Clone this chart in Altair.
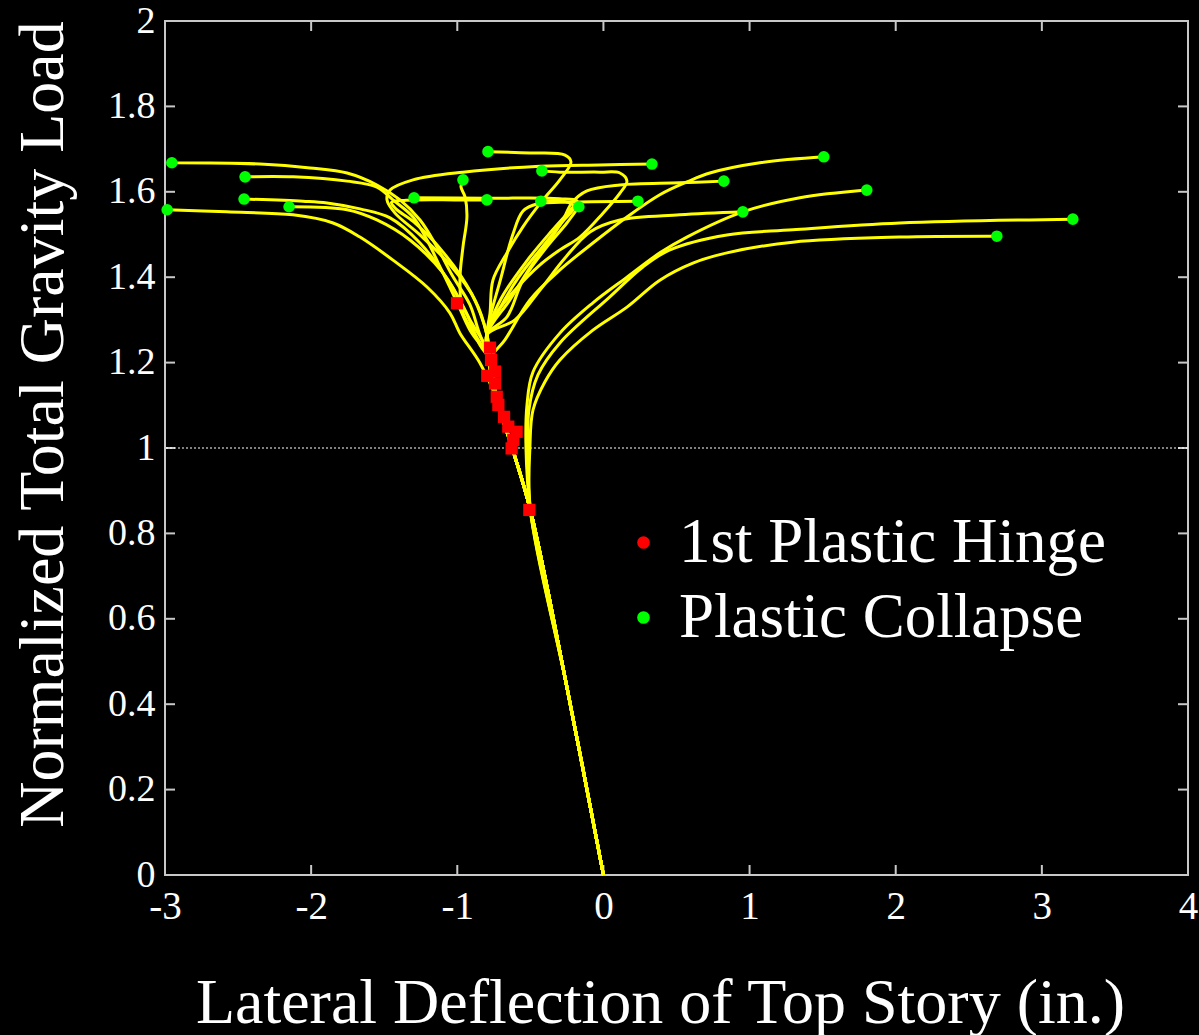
import altair as alt
import pandas as pd

# ---------------- data ----------------
# shared part of every load path (elastic trunk)
TRUNK_X = [0.0, -0.25, -0.50]
TRUNK_Y = [0.0, 0.44, 0.855]
UPPER_X = [-0.626, -0.728, -0.776]
UPPER_Y = [1.002, 1.112, 1.206]
NECK_X = [-0.797]
NECK_Y = [1.265]

# plastic collapse points (end of each path)
COLLAPSE_X = [-2.953, -2.985, -2.452, -2.459, -2.151, -1.296, -0.961, -0.790, -0.797, -0.428,
              -0.421, -0.168, 0.332, 0.236, 0.824, 0.954, 1.508, 1.802, 2.692, 3.212]
COLLAPSE_Y = [1.668, 1.558, 1.635, 1.583, 1.565, 1.586, 1.628, 1.694, 1.581, 1.578,
              1.649, 1.565, 1.665, 1.578, 1.625, 1.553, 1.682, 1.604, 1.496, 1.536]

# which shared part each path follows before branching
ROUTE = ["upper", "trunk", "upper", "upper", "upper", "neck", "upper", "neck", "neck", "neck",
         "neck", "neck", "neck", "neck", "neck", "neck", "upper", "trunk", "trunk", "trunk"]

BRANCH_X = [
    [-0.85, -0.913, -1.036, -1.139, -1.255, -1.392, -1.55, -1.754, -2.007, -2.35],
    [-0.626, -0.728, -0.845, -0.982, -1.05, -1.207, -1.44, -1.666, -1.85, -2.124, -2.577],
    [-0.913, -1.0, -1.118, -1.207, -1.303, -1.44, -1.55, -1.754, -2.124],
    [-0.811, -0.913, -1.05, -1.255, -1.46, -1.666, -1.891, -2.055],
    [-0.845, -0.947, -1.098, -1.324, -1.55, -1.754],
    [-0.70, -0.52, -0.35, -0.22, -0.18, -0.30, -0.80],
    [-0.85, -0.961, -0.982, -0.961, -0.934, -0.947, -0.975],
    [-0.776, -0.756, -0.66, -0.551, -0.414, -0.298, -0.222, -0.263, -0.503],
    [-0.90, -1.10, -1.30, -1.42, -1.45, -1.35, -1.0],
    [-0.72, -0.58, -0.42, -0.28, -0.20, -0.26],
    [-0.742, -0.605, -0.434, -0.298, -0.161, -0.003, 0.113, 0.161, 0.113, -0.024, -0.298],
    [-0.66, -0.551, -0.387, -0.25],
    [-0.879, -1.05, -1.255, -1.426, -1.481, -1.46, -1.303, -0.961, -0.434, -0.024],
    [-0.70, -0.62, -0.55, -0.45, -0.2],
    [-0.64, -0.503, -0.366, -0.277, -0.216, -0.113, 0.113, 0.523],
    [-0.605, -0.434, -0.263, -0.092, 0.113, 0.523],
    [-0.674, -0.503, -0.298, -0.072, 0.161, 0.386, 0.571, 0.728, 1.07],
    [-0.530, -0.523, -0.482, -0.298, -0.072, 0.161, 0.386, 0.571, 0.954, 1.344],
    [-0.503, -0.482, -0.40, -0.298, -0.072, 0.161, 0.386, 0.612, 0.845, 1.296, 2.028],
    [-0.516, -0.51, -0.448, -0.298, 0.044, 0.270, 0.455, 0.845, 1.296, 2.028],
]
BRANCH_Y = [
    [1.27, 1.335, 1.405, 1.471, 1.534, 1.581, 1.616, 1.644, 1.656, 1.665],
    [1.002, 1.112, 1.199, 1.269, 1.316, 1.377, 1.44, 1.494, 1.527, 1.546, 1.553],
    [1.276, 1.34, 1.424, 1.487, 1.541, 1.581, 1.611, 1.625, 1.635],
    [1.241, 1.30, 1.386, 1.48, 1.539, 1.56, 1.574, 1.578],
    [1.241, 1.323, 1.41, 1.487, 1.534, 1.558],
    [1.35, 1.44, 1.51, 1.56, 1.578, 1.584, 1.585],
    [1.25, 1.316, 1.393, 1.471, 1.541, 1.588, 1.612],
    [1.316, 1.393, 1.457, 1.518, 1.581, 1.628, 1.670, 1.686, 1.691],
    [1.36, 1.46, 1.53, 1.56, 1.575, 1.58, 1.581],
    [1.32, 1.40, 1.47, 1.53, 1.565, 1.577],
    [1.311, 1.37, 1.429, 1.464, 1.494, 1.55, 1.597, 1.625, 1.644, 1.646, 1.646],
    [1.307, 1.393, 1.471, 1.527],
    [1.347, 1.429, 1.499, 1.55, 1.581, 1.604, 1.628, 1.646, 1.66, 1.663],
    [1.40, 1.50, 1.555, 1.572, 1.576],
    [1.347, 1.422, 1.487, 1.534, 1.574, 1.602, 1.616, 1.621],
    [1.30, 1.37, 1.445, 1.506, 1.534, 1.546],
    [1.253, 1.347, 1.417, 1.48, 1.541, 1.593, 1.623, 1.644, 1.668],
    [1.002, 1.101, 1.178, 1.269, 1.34, 1.40, 1.457, 1.494, 1.553, 1.586],
    [1.002, 1.089, 1.155, 1.206, 1.276, 1.33, 1.393, 1.433, 1.457, 1.482, 1.494],
    [1.002, 1.089, 1.171, 1.246, 1.354, 1.424, 1.464, 1.499, 1.511, 1.527],
]

# first plastic hinge points
HINGE_X = [-1.002, -0.776, -0.769, -0.795, -0.742, -0.742, -0.730, -0.719, -0.680, -0.651,
           -0.594, -0.617, -0.628, -0.507]
HINGE_Y = [1.339, 1.235, 1.206, 1.169, 1.179, 1.151, 1.120, 1.101, 1.073, 1.050,
           1.038, 1.019, 0.999, 0.855]

X_TICKS = [-3, -2, -1, 0, 1, 2, 3, 4]
Y_TICKS = [0, 0.2, 0.4, 0.6, 0.8, 1, 1.2, 1.4, 1.6, 1.8, 2]
X_INNER = [-2, -1, 0, 1, 2, 3]
Y_INNER = [0.2, 0.4, 0.6, 0.8, 1, 1.2, 1.4, 1.6, 1.8]
REF_LOAD = [1.0]
KINDS = ["1st Plastic Hinge", "Plastic Collapse"]

# ---------------- tables ----------------
rows = []
for i in range(len(COLLAPSE_X)):
    xs = list(TRUNK_X)
    ys = list(TRUNK_Y)
    if ROUTE[i] in ("upper", "neck"):
        xs += UPPER_X
        ys += UPPER_Y
    if ROUTE[i] == "neck":
        xs += NECK_X
        ys += NECK_Y
    xs += BRANCH_X[i] + [COLLAPSE_X[i]]
    ys += BRANCH_Y[i] + [COLLAPSE_Y[i]]
    for k, (x, y) in enumerate(zip(xs, ys)):
        rows.append({"curve": i, "k": k, "x": x, "y": y})
lines_df = pd.DataFrame(rows)
hinge_df = pd.DataFrame({"x": HINGE_X, "y": HINGE_Y, "kind": KINDS[0]})
collapse_df = pd.DataFrame({"x": COLLAPSE_X, "y": COLLAPSE_Y, "kind": KINDS[1]})
xin_df = pd.DataFrame({"x": X_INNER})
yin_df = pd.DataFrame({"y": Y_INNER})
ref_df = pd.DataFrame({"y": REF_LOAD})

W, H = 1023, 854
FONT = "Liberation Serif"
GRAY = "#c8c8c8"

x_scale = alt.Scale(domain=[-3, 4], nice=False, zero=False)
y_scale = alt.Scale(domain=[0, 2], nice=False, zero=False)

x_axis = alt.Axis(
    values=X_TICKS, labelExpr="'' + datum.value", title="Lateral Deflection of Top Story (in.)",
    labelFont=FONT, labelFontSize=39, labelColor="white", labelPadding=12,
    labelFlush=False, labelOverlap=False, ticks=False, domain=False, grid=False,
    titleFont=FONT, titleFontSize=64, titleFontWeight="normal", titleColor="white",
    titleX=495, titleY=147, titleAlign="center", titleBaseline="alphabetic",
)
y_axis = alt.Axis(
    values=Y_TICKS, labelExpr="'' + datum.value", title="Normalized Total Gravity Load",
    labelFont=FONT, labelFontSize=38, labelColor="white", labelPadding=10,
    labelFlush=False, labelOverlap=False, ticks=False, domain=False, grid=False,
    titleFont=FONT, titleFontSize=64, titleFontWeight="normal", titleColor="white",
    titleX=-103, titleY=403, titleAngle=270, titleAlign="center", titleBaseline="alphabetic",
)

def X(field="x"):
    return alt.X(f"{field}:Q", scale=x_scale, axis=x_axis)

def Y(field="y"):
    return alt.Y(f"{field}:Q", scale=y_scale, axis=y_axis)

color = alt.Color(
    "kind:N",
    scale=alt.Scale(domain=KINDS, range=["#ff0000", "#00ff00"]),
    legend=alt.Legend(
        title=None, orient="none", legendX=447, legendY=490, padding=0,
        symbolType="circle", symbolSize=160, symbolStrokeWidth=0, symbolOpacity=1,
        labelFont=FONT, labelFontSize=63, labelColor="white", labelOffset=4,
        rowPadding=11, labelLimit=0,
    ),
)

tick_style = dict(color=GRAY, strokeWidth=2)
bottom_ticks = alt.Chart(xin_df).mark_rule(**tick_style).encode(
    x=X(), y=alt.value(H), y2=alt.value(H - 10))
top_ticks = alt.Chart(xin_df).mark_rule(**tick_style).encode(
    x=X(), y=alt.value(0), y2=alt.value(10))
left_ticks = alt.Chart(yin_df).mark_rule(**tick_style).encode(
    y=Y(), x=alt.value(0), x2=alt.value(10))
right_ticks = alt.Chart(yin_df).mark_rule(**tick_style).encode(
    y=Y(), x=alt.value(W - 10), x2=alt.value(W))

ref_line = alt.Chart(ref_df).mark_rule(color="white", strokeDash=[2, 2], strokeWidth=1).encode(y=Y())

paths = alt.Chart(lines_df).mark_line(
    color="#ffff00", strokeWidth=3, interpolate="catmull-rom"
).encode(x=X(), y=Y(), detail="curve:N", order="k:Q")

hinges = alt.Chart(hinge_df).mark_square(size=150, opacity=1).encode(x=X(), y=Y(), color=color)
collapses = alt.Chart(collapse_df).mark_circle(size=135, opacity=1).encode(x=X(), y=Y(), color=color)

chart = alt.layer(
    bottom_ticks, top_ticks, left_ticks, right_ticks, ref_line, paths, hinges, collapses
).properties(
    width=W, height=H,
    autosize=alt.AutoSizeParams(type="none"),
    padding={"left": 165, "top": 21, "right": 11, "bottom": 160},
    background="black",
).configure_view(
    stroke=GRAY, strokeWidth=2, fill="black"
)

chart.save("out.html", embed_options={"renderer": "svg", "actions": False})
